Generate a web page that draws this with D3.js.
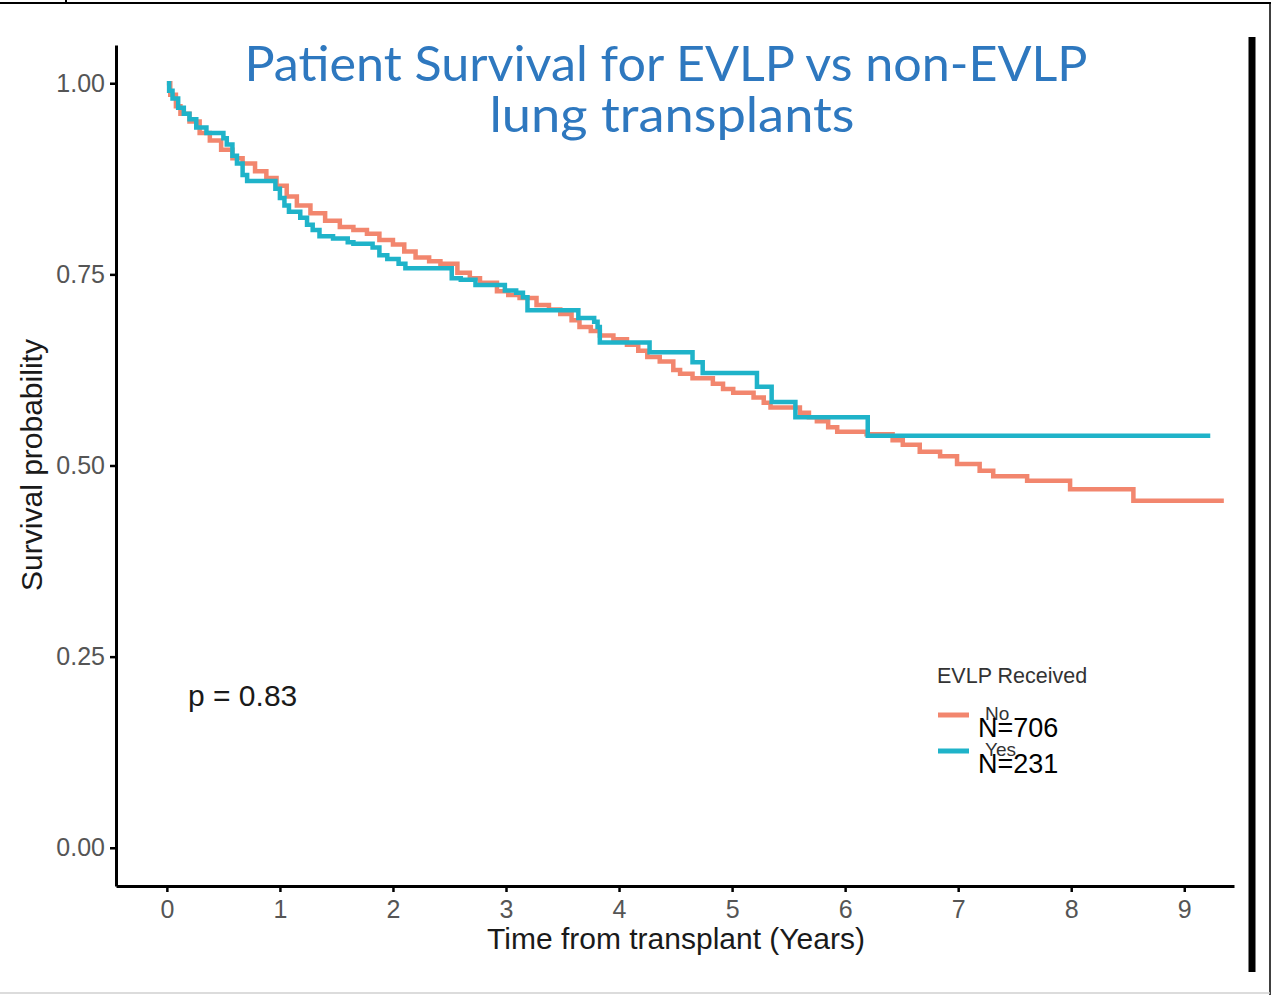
<!DOCTYPE html>
<html>
<head>
<meta charset="utf-8">
<script src="https://cdn.jsdelivr.net/npm/d3@7"></script>
<style>
  body { margin: 0; background: #fff; }
  svg { display: block; }
</style>
</head>
<body>
<div id="chart"></div>
<script>
'use strict'
// Kaplan-Meier steps: [time in years, survival]
const noTimes = [0, 0.03, 0.08, 0.12, 0.2, 0.29, 0.38, 0.48, 0.58, 0.67, 0.78, 0.88, 0.97, 1.06, 1.15, 1.27, 1.4, 1.53, 1.65, 1.77, 1.88, 2.0, 2.1, 2.2, 2.32, 2.42, 2.57, 2.68, 2.77, 2.92, 3.02, 3.12, 3.27, 3.38, 3.48, 3.58, 3.65, 3.75, 3.83, 3.95, 4.07, 4.17, 4.25, 4.36, 4.48, 4.54, 4.65, 4.83, 4.92, 5.01, 5.19, 5.28, 5.34, 5.6, 5.68, 5.75, 5.85, 5.93, 6.19, 6.42, 6.51, 6.66, 6.84, 6.99, 7.19, 7.31, 7.61, 7.99, 8.55, 9.35];
const noSurv = [1.0, 0.985, 0.97, 0.96, 0.95, 0.935, 0.925, 0.913, 0.902, 0.895, 0.885, 0.876, 0.866, 0.852, 0.84, 0.83, 0.82, 0.812, 0.808, 0.803, 0.795, 0.789, 0.78, 0.772, 0.767, 0.764, 0.752, 0.745, 0.739, 0.728, 0.723, 0.719, 0.71, 0.704, 0.698, 0.69, 0.681, 0.676, 0.67, 0.665, 0.658, 0.65, 0.642, 0.636, 0.625, 0.62, 0.614, 0.607, 0.6, 0.595, 0.589, 0.582, 0.576, 0.569, 0.563, 0.558, 0.55, 0.544, 0.541, 0.533, 0.527, 0.518, 0.512, 0.502, 0.493, 0.486, 0.48, 0.469, 0.454, 0.454];

const yesTimes = [0, 0.02, 0.05, 0.1, 0.15, 0.2, 0.26, 0.35, 0.5, 0.53, 0.58, 0.62, 0.67, 0.71, 0.96, 1.0, 1.04, 1.08, 1.18, 1.24, 1.29, 1.35, 1.47, 1.6, 1.65, 1.82, 1.88, 1.95, 2.05, 2.11, 2.52, 2.6, 2.73, 2.99, 3.09, 3.15, 3.19, 3.64, 3.78, 3.81, 3.83, 4.27, 4.65, 4.74, 5.22, 5.35, 5.56, 6.2, 9.23];
const yesSurv = [1.0, 0.99, 0.98, 0.968, 0.96, 0.953, 0.942, 0.935, 0.928, 0.92, 0.905, 0.895, 0.88, 0.872, 0.862, 0.85, 0.84, 0.832, 0.824, 0.815, 0.808, 0.8, 0.797, 0.792, 0.79, 0.785, 0.775, 0.77, 0.764, 0.758, 0.745, 0.743, 0.736, 0.729, 0.726, 0.72, 0.703, 0.693, 0.688, 0.681, 0.661, 0.648, 0.635, 0.621, 0.603, 0.583, 0.563, 0.539, 0.539];

const xTicks = [0, 1, 2, 3, 4, 5, 6, 7, 8, 9];
const yTicks = [0, 0.25, 0.5, 0.75, 1];
const groups = ['No', 'Yes'];
const groupN = ['N=706', 'N=231'];
const groupColors = ['#f2866e', '#1fb3c9'];

let W = 1281, H = 995;
let font = 'Liberation Sans, Arial, sans-serif';
let svg = d3.select('#chart')
  .append('svg')
  .attr('width', W)
  .attr('height', H);

// frame round the slide
svg.append('line').attr('x1', 0).attr('x2', 1271).attr('y1', 3).attr('y2', 3)
  .attr('stroke', '#000').attr('stroke-width', 2);
svg.append('line').attr('x1', 66).attr('x2', 66).attr('y1', 0).attr('y2', 3)
  .attr('stroke', '#000').attr('stroke-width', 2);
svg.append('line').attr('x1', 1270).attr('x2', 1270).attr('y1', 3).attr('y2', 995)
  .attr('stroke', '#000').attr('stroke-width', 1.5);
svg.append('line').attr('x1', 0).attr('x2', 1270).attr('y1', 993).attr('y2', 993)
  .attr('stroke', '#d0d0d0').attr('stroke-width', 1.5);
svg.append('line').attr('x1', 1252).attr('x2', 1252).attr('y1', 37).attr('y2', 972)
  .attr('stroke', '#000').attr('stroke-width', 7);

let x = d3.scaleLinear().domain([-0.45, 9.44]).range([116, 1234]);
let y = d3.scaleLinear().domain([-0.05, 1.05]).range([886, 45]);

let xAxis = d3.axisBottom(x).tickValues(xTicks).tickSize(6).tickSizeOuter(0).tickPadding(6)
  .tickFormat(d3.format('d'));
let yAxis = d3.axisLeft(y).tickValues(yTicks).tickSize(6).tickSizeOuter(0).tickPadding(5)
  .tickFormat(d3.format('.2f'));

let gx = svg.append('g').attr('transform', 'translate(0,886)').call(xAxis);
let gy = svg.append('g').attr('transform', 'translate(116,0)').call(yAxis);
[gx, gy].forEach(function(g) {
  g.select('.domain').attr('stroke', '#000').attr('stroke-width', 3);
  g.selectAll('.tick line').attr('stroke', '#000').attr('stroke-width', 2.5);
  g.selectAll('.tick text')
    .attr('fill', '#555')
    .attr('font-family', font)
    .attr('font-size', '25px');
});
gx.selectAll('.tick text').attr('dy', '0.8em');

// curves
let line = d3.line()
  .x(function(d) { return x(d[0]); })
  .y(function(d) { return y(d[1]); })
  .curve(d3.curveStepAfter);

let series = [d3.zip(noTimes, noSurv), d3.zip(yesTimes, yesSurv)];
svg.selectAll('.km')
  .data(series)
  .enter().append('path')
  .attr('class', 'km')
  .attr('d', line)
  .attr('fill', 'none')
  .attr('stroke', function(d, i) { return groupColors[i]; })
  .attr('stroke-width', 4.5)
  .attr('stroke-linejoin', 'miter');

// title
svg.append('text')
  .attr('x', 666).attr('y', 81)
  .attr('text-anchor', 'middle')
  .attr('fill', '#2e78bf')
  .attr('font-family', 'Lato, "Open Sans", sans-serif')
  .attr('font-size', '48px')
  .attr('textLength', 843)
  .attr('lengthAdjust', 'spacingAndGlyphs')
  .text('Patient Survival for EVLP vs non-EVLP');
svg.append('text')
  .attr('x', 672).attr('y', 132)
  .attr('text-anchor', 'middle')
  .attr('fill', '#2e78bf')
  .attr('font-family', 'Lato, "Open Sans", sans-serif')
  .attr('font-size', '48px')
  .attr('textLength', 365)
  .attr('lengthAdjust', 'spacingAndGlyphs')
  .text('lung transplants');

// axis titles
svg.append('text')
  .attr('x', 676).attr('y', 949)
  .attr('text-anchor', 'middle')
  .attr('fill', '#1a1a1a')
  .attr('font-family', font)
  .attr('font-size', '30px')
  .text('Time from transplant (Years)');
svg.append('text')
  .attr('transform', 'translate(42,465) rotate(-90)')
  .attr('text-anchor', 'middle')
  .attr('fill', '#1a1a1a')
  .attr('font-family', font)
  .attr('font-size', '30px')
  .text('Survival probability');

// p value
svg.append('text')
  .attr('x', 188).attr('y', 706)
  .attr('fill', '#1a1a1a')
  .attr('font-family', font)
  .attr('font-size', '30px')
  .text('p = 0.83');

// legend
let legend = svg.append('g').attr('transform', 'translate(937,0)');
legend.append('text')
  .attr('x', 0).attr('y', 683)
  .attr('fill', '#333')
  .attr('font-family', font)
  .attr('font-size', '21.5px')
  .text('EVLP Received');
let keyY = [715, 751];
groups.forEach(function(g, i) {
  legend.append('line')
    .attr('x1', 1).attr('x2', 32)
    .attr('y1', keyY[i]).attr('y2', keyY[i])
    .attr('stroke', groupColors[i])
    .attr('stroke-width', 5);
  legend.append('text')
    .attr('x', 48).attr('y', keyY[i] + 5)
    .attr('fill', '#333')
    .attr('font-family', font)
    .attr('font-size', '19px')
    .text(g);
  legend.append('text')
    .attr('x', 41).attr('y', keyY[i] + 22)
    .attr('fill', '#000')
    .attr('font-family', font)
    .attr('font-size', '27px')
    .text(groupN[i]);
});
</script>
</body>
</html>
